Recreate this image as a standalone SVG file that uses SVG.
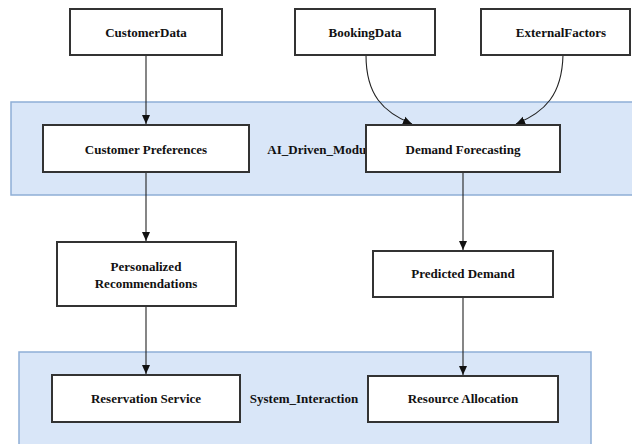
<svg xmlns="http://www.w3.org/2000/svg" width="632" height="444" viewBox="0 0 632 444">
<style>
.cl{fill:#d9e6f8;stroke:#8eaed6;stroke-width:1.5}
.nd{fill:#fff;stroke:#333;stroke-width:2}
.t{font-family:'Liberation Serif','DejaVu Serif','Times New Roman',serif;font-weight:bold;font-size:13px;fill:#111;text-anchor:middle;dominant-baseline:central}
.e{fill:none;stroke:#222;stroke-width:1.1}
</style>
<defs>
<marker id="ah" markerWidth="10" markerHeight="10" refX="9" refY="5" orient="auto" markerUnits="userSpaceOnUse">
<path d="M0,1 L9,5 L0,9 Z" fill="#111"/>
</marker>
</defs>
<rect width="632" height="444" fill="#fff"/>
<g id="cluster_AI_Driven_Modu">
<rect class="cl" x="11" y="102" width="640" height="93"/>
<text class="t" x="324" y="149">AI_Driven_Modules</text>
</g>
<g id="cluster_System_Interaction">
<rect class="cl" x="19" y="352" width="572" height="110"/>
<text class="t" x="304" y="398">System_Interaction</text>
</g>
<g id="connectors">
<path class="e" d="M146,55 L146,124" marker-end="url(#ah)"/>
<path class="e" d="M146,172 L146,241" marker-end="url(#ah)"/>
<path class="e" d="M146,306 L146,374" marker-end="url(#ah)"/>
<path class="e" d="M463,172 L463,250" marker-end="url(#ah)"/>
<path class="e" d="M463,297 L463,375" marker-end="url(#ah)"/>
<path class="e" d="M366,55 C366,95 383,112 412,124" marker-end="url(#ah)"/>
<path class="e" d="M563,55 C562,95 545,112 516,124" marker-end="url(#ah)"/>
</g>
<g id="CustomerData"><rect class="nd" x="70" y="9" width="152" height="46"/><text class="t" x="146" y="32">CustomerData</text></g>
<g id="BookingData"><rect class="nd" x="295" y="9" width="140" height="46"/><text class="t" x="365" y="32">BookingData</text></g>
<g id="ExternalFactors"><rect class="nd" x="481" y="9" width="149" height="46"/><text class="t" x="561" y="32">ExternalFactors</text></g>
<g id="CustomerPreferences"><rect class="nd" x="43" y="125" width="206" height="47"/><text class="t" x="146" y="149">Customer Preferences</text></g>
<g id="DemandForecasting"><rect class="nd" x="366" y="125" width="194" height="47"/><text class="t" x="463" y="149">Demand Forecasting</text></g>
<g id="PersonalizedRecommendations"><rect class="nd" x="57" y="242" width="179" height="64"/><text class="t" x="146" y="266">Personalized</text><text class="t" x="146" y="283">Recommendations</text></g>
<g id="PredictedDemand"><rect class="nd" x="373" y="251" width="180" height="46"/><text class="t" x="463" y="273">Predicted Demand</text></g>
<g id="ReservationService"><rect class="nd" x="52" y="375" width="188" height="47"/><text class="t" x="146" y="398">Reservation Service</text></g>
<g id="ResourceAllocation"><rect class="nd" x="368" y="376" width="190" height="46"/><text class="t" x="463" y="398">Resource Allocation</text></g>
</svg>
